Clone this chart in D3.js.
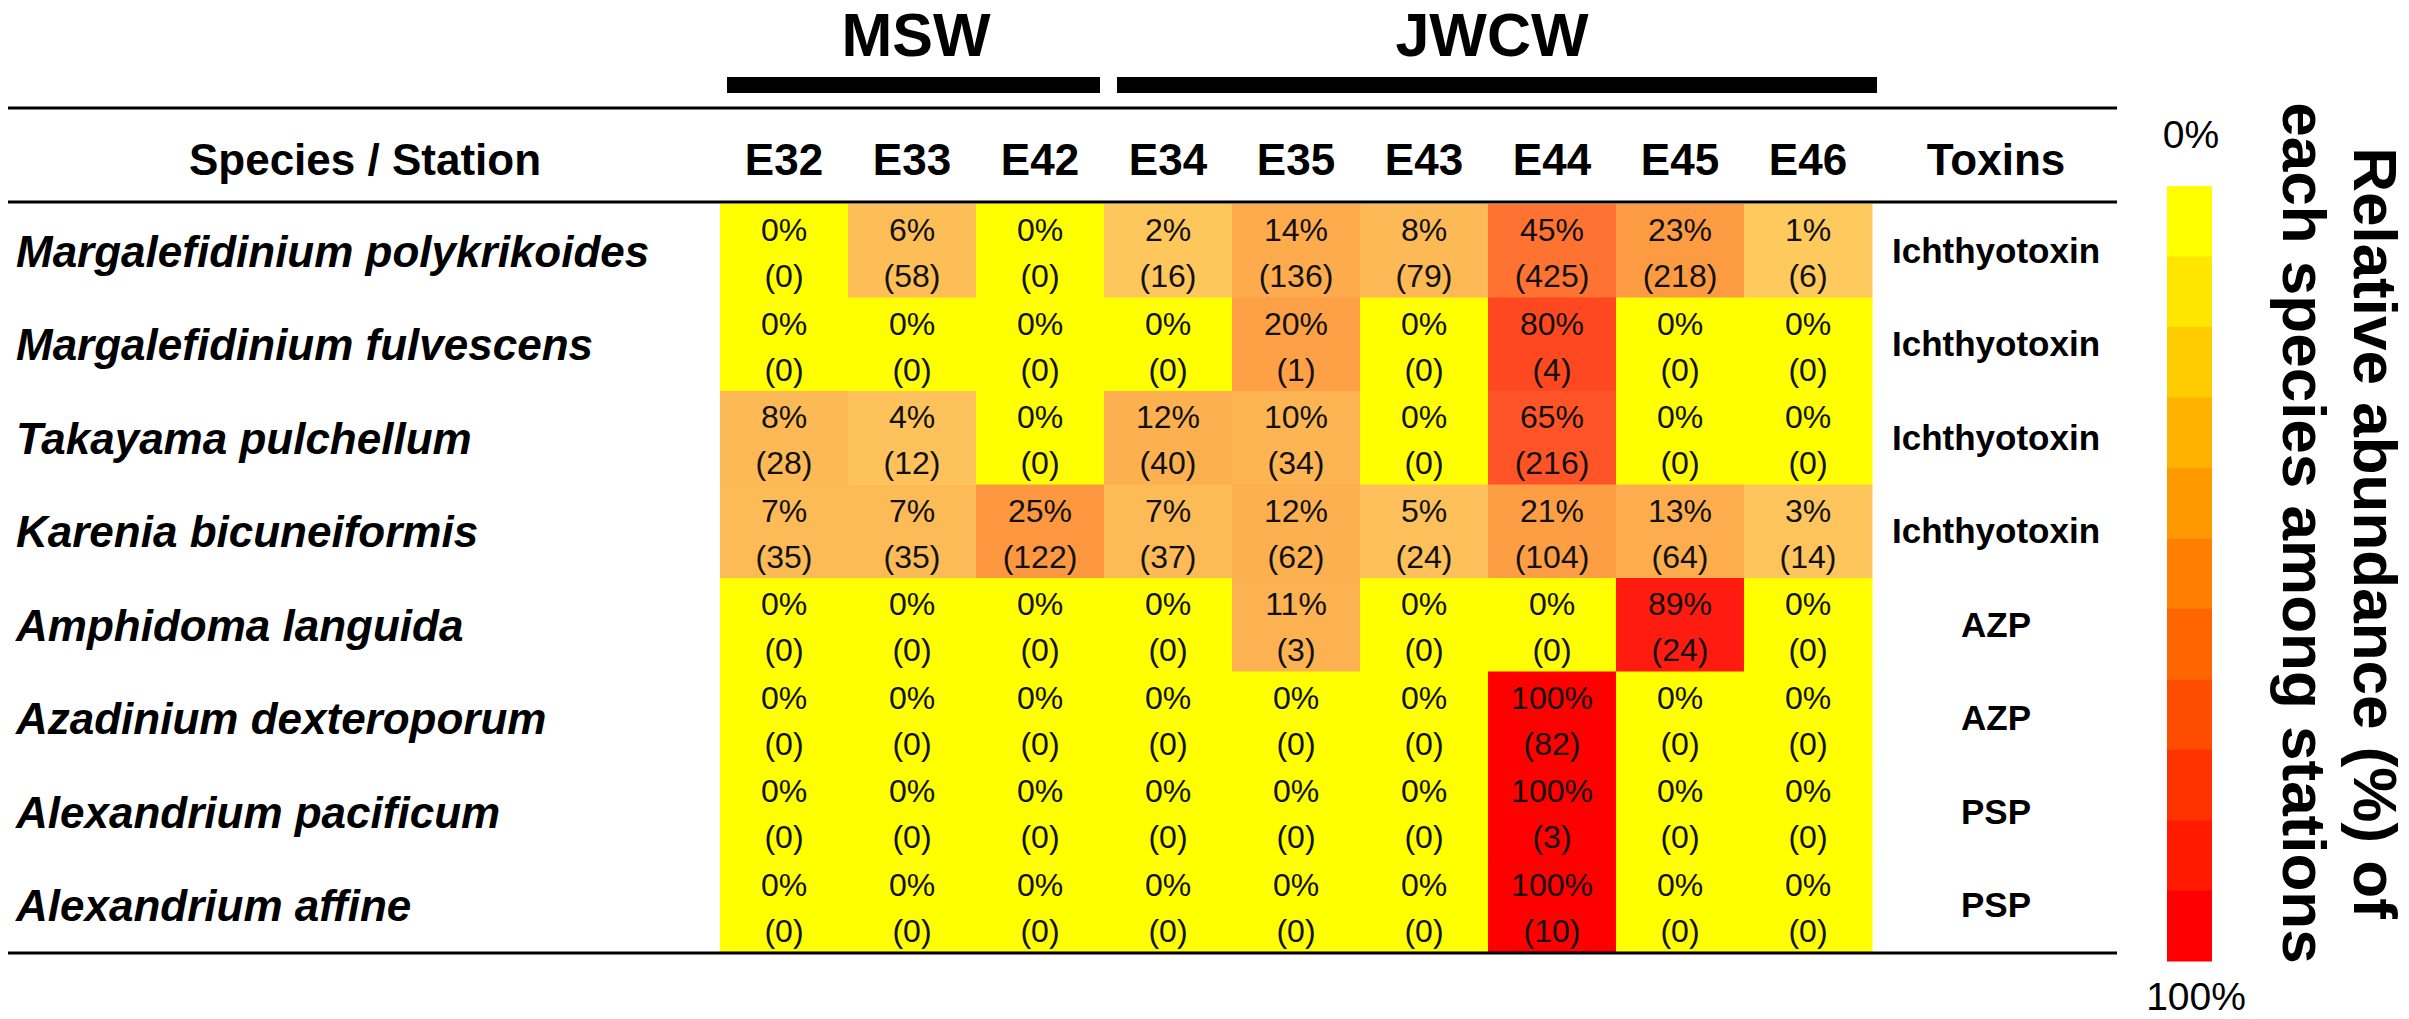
<!DOCTYPE html>
<html lang="en">
<head>
    <meta charset="UTF-8">
    <title>Toxic dinoflagellates by station</title>
    <style>
        body { margin: 0; background: #fff; }
        svg { display: block; }
    </style>
</head>
<body>
    <script src="https://cdn.jsdelivr.net/npm/d3@7"></script>
    <script>
        // Data
        const stations = ["E32", "E33", "E42", "E34", "E35", "E43", "E44", "E45", "E46"];
        const species = [
            "Margalefidinium polykrikoides",
            "Margalefidinium fulvescens",
            "Takayama pulchellum",
            "Karenia bicuneiformis",
            "Amphidoma languida",
            "Azadinium dexteroporum",
            "Alexandrium pacificum",
            "Alexandrium affine"
        ];
        const toxins = ["Ichthyotoxin", "Ichthyotoxin", "Ichthyotoxin", "Ichthyotoxin", "AZP", "AZP", "PSP", "PSP"];

        // relative abundance (%) per species (rows) and station (columns)
        const percents = [
            [0, 6, 0, 2, 14, 8, 45, 23, 1],
            [0, 0, 0, 0, 20, 0, 80, 0, 0],
            [8, 4, 0, 12, 10, 0, 65, 0, 0],
            [7, 7, 25, 7, 12, 5, 21, 13, 3],
            [0, 0, 0, 0, 11, 0, 0, 89, 0],
            [0, 0, 0, 0, 0, 0, 100, 0, 0],
            [0, 0, 0, 0, 0, 0, 100, 0, 0],
            [0, 0, 0, 0, 0, 0, 100, 0, 0]
        ];
        // cell counts shown in brackets
        const counts = [
            [0, 58, 0, 16, 136, 79, 425, 218, 6],
            [0, 0, 0, 0, 1, 0, 4, 0, 0],
            [28, 12, 0, 40, 34, 0, 216, 0, 0],
            [35, 35, 122, 37, 62, 24, 104, 64, 14],
            [0, 0, 0, 0, 3, 0, 0, 24, 0],
            [0, 0, 0, 0, 0, 0, 82, 0, 0],
            [0, 0, 0, 0, 0, 0, 3, 0, 0],
            [0, 0, 0, 0, 0, 0, 10, 0, 0]
        ];

        const groups = [
            { name: "MSW", from: "E32", to: "E42" },
            { name: "JWCW", from: "E34", to: "E46" }
        ];
        const legendLabels = ["0%", "100%"];
        const legendTitle = ["Relative abundance (%) of", "each species among stations"];
    </script>
    <script>
        const width = 2409;
        const height = 1019;
        const sansFont = "'Liberation Sans', Arial, sans-serif";

        const svg = d3.select("body").append("svg")
            .attr("width", width)
            .attr("height", height)
            .attr("viewBox", [0, 0, width, height])
            .style("font-family", sansFont);

        const x = d3.scaleBand()
            .domain(stations)
            .range([720, 1872]);

        const y = d3.scaleBand()
            .domain(species)
            .range([204, 952]);

        // non-zero values go from pale orange to red, zero stays yellow
        const cellColor = d3.scaleLinear()
            .domain([1, 5, 10, 15, 25, 45, 65, 80, 89, 100])
            .range(["#fec95d", "#fdc05a", "#fdb452", "#fda94c", "#fd9740", "#ff7332", "#ff5427", "#ff481f", "#ff1b10", "#ff0000"])
            .interpolate(d3.interpolateRgb)
            .clamp(true);
        const colorOf = v => v === 0 ? "#ffff00" : cellColor(v);

        const cells = species.flatMap((sp, i) => stations.map((st, j) => ({
            species: sp,
            station: st,
            pct: percents[i][j],
            n: counts[i][j]
        })));

        // Cells
        svg.append("g")
            .selectAll("rect")
            .data(cells)
            .join("rect")
            .attr("x", d => x(d.station))
            .attr("y", d => y(d.species))
            .attr("width", x.bandwidth() + 0.5)
            .attr("height", y.bandwidth() + 0.5)
            .attr("fill", d => colorOf(d.pct));

        const cellText = svg.append("g")
            .attr("text-anchor", "middle")
            .attr("fill", "#111")
            .style("font-size", "32px");

        cellText.selectAll(".pct")
            .data(cells)
            .join("text")
            .attr("class", "pct")
            .attr("x", d => x(d.station) + x.bandwidth() / 2)
            .attr("y", d => y(d.species) + 37)
            .text(d => d.pct + "%");

        cellText.selectAll(".cnt")
            .data(cells)
            .join("text")
            .attr("class", "cnt")
            .attr("x", d => x(d.station) + x.bandwidth() / 2)
            .attr("y", d => y(d.species) + 83)
            .text(d => "(" + d.n + ")");

        // Row labels (species) and toxin column
        svg.append("g")
            .style("font-size", "44px")
            .style("font-weight", "bold")
            .style("font-style", "italic")
            .selectAll("text")
            .data(species)
            .join("text")
            .attr("x", 16)
            .attr("y", d => y(d) + y.bandwidth() / 2 + 16)
            .text(d => d);

        svg.append("g")
            .attr("text-anchor", "middle")
            .style("font-size", "35px")
            .style("font-weight", "bold")
            .selectAll("text")
            .data(species)
            .join("text")
            .attr("x", 1996)
            .attr("y", (d, i) => y(d) + y.bandwidth() / 2 + 12)
            .text((d, i) => toxins[i]);

        // Header row
        const header = svg.append("g")
            .attr("text-anchor", "middle")
            .style("font-size", "44px")
            .style("font-weight", "bold");

        header.append("text")
            .attr("x", 365)
            .attr("y", 175)
            .text("Species / Station");

        header.selectAll(".st")
            .data(stations)
            .join("text")
            .attr("class", "st")
            .attr("x", d => x(d) + x.bandwidth() / 2)
            .attr("y", 175)
            .text(d => d);

        header.append("text")
            .attr("x", 1996)
            .attr("y", 175)
            .text("Toxins");

        // Table rules
        svg.append("g")
            .attr("stroke", "#000")
            .attr("stroke-width", 3)
            .selectAll("line")
            .data([108, 202, 953])
            .join("line")
            .attr("x1", 8)
            .attr("x2", 2117)
            .attr("y1", d => d)
            .attr("y2", d => d);

        // Water mass groups
        const groupG = svg.append("g");
        groupG.selectAll("rect")
            .data(groups)
            .join("rect")
            .attr("x", (d, i) => x(d.from) + (i === 0 ? 7 : 13))
            .attr("width", (d, i) => x(d.to) + x.bandwidth() - x(d.from) - (i === 0 ? 11 : 8))
            .attr("y", 77)
            .attr("height", 16)
            .attr("fill", "#000");

        groupG.selectAll("text")
            .data(groups)
            .join("text")
            .attr("text-anchor", "middle")
            .attr("x", d => (x(d.from) + x(d.to) + x.bandwidth()) / 2 + 4)
            .attr("y", 56)
            .style("font-size", "61px")
            .style("font-weight", "bold")
            .text(d => d.name);

        // Colour key
        const steps = 11;
        const legendY = d3.scaleBand()
            .domain(d3.range(steps))
            .range([186, 961]);
        const legendColor = d3.scaleLinear()
            .domain([0, steps - 1])
            .range(["#ffff00", "#ff0000"]);

        svg.append("g")
            .selectAll("rect")
            .data(d3.range(steps))
            .join("rect")
            .attr("x", 2167)
            .attr("y", d => legendY(d))
            .attr("width", 45)
            .attr("height", legendY.bandwidth() + 0.5)
            .attr("fill", d => legendColor(d));

        svg.append("g")
            .attr("text-anchor", "middle")
            .style("font-size", "39px")
            .selectAll("text")
            .data(legendLabels)
            .join("text")
            .attr("x", (d, i) => i === 0 ? 2191 : 2196)
            .attr("y", (d, i) => i === 0 ? 148 : 1010)
            .text(d => d);

        svg.append("g")
            .style("font-size", "62px")
            .style("font-weight", "bold")
            .attr("text-anchor", "middle")
            .selectAll("text")
            .data(legendTitle)
            .join("text")
            .attr("transform", (d, i) => `translate(${i === 0 ? 2354 : 2283},533) rotate(90)`)
            .text(d => d);
    </script>
</body>
</html>
